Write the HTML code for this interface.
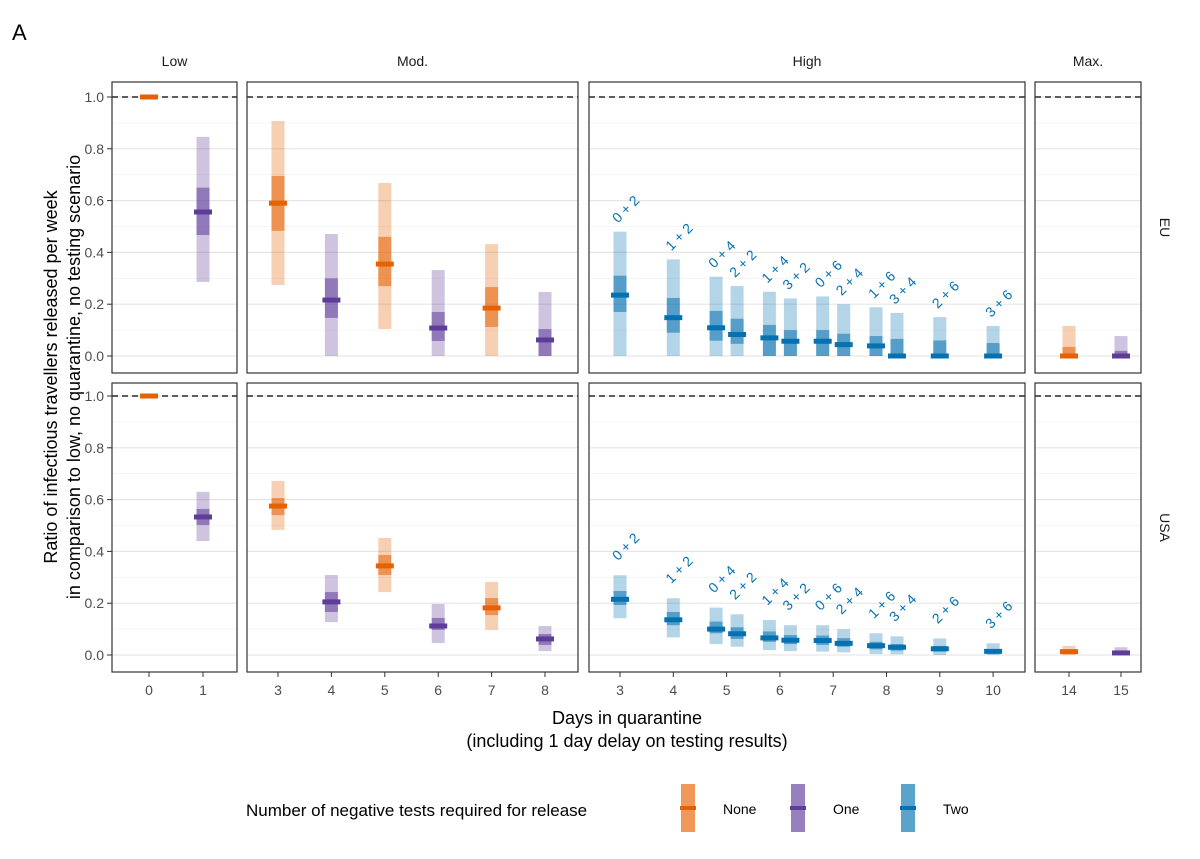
<!DOCTYPE html>
<html><head><meta charset="utf-8">
<style>
body{margin:0;background:#fff;}
svg text{font-family:"Liberation Sans",Arial,sans-serif;}
</style></head>
<body>
<svg id="chart" width="1200" height="854" viewBox="0 0 1200 854" xmlns="http://www.w3.org/2000/svg">
<text x="12" y="40" font-size="22" fill="#000">A</text>
</svg>
<script>
// ---- data ----
// each point: [facetIndex, xValue, dodge, group(0 none,1 one,2 two), lo95, lo50, median, hi50, hi95, label]
const facetNames = ["Low","Mod.","High","Max."];
const rowNames = ["EU","USA"];
const yTicks = [0,0.2,0.4,0.6,0.8,1.0];
const yTickLabels = ["0.0","0.2","0.4","0.6","0.8","1.0"];
const xTicks = [[0,1],[3,4,5,6,7,8],[3,4,5,6,7,8,9,10],[14,15]];
const euPoints = [
 [0,0,0,0,1,1,1,1,1,""],
 [0,1,0,1,0.286,0.467,0.556,0.65,0.846,""],
 [1,3,0,0,0.274,0.483,0.59,0.695,0.907,""],
 [1,4,0,1,0,0.147,0.216,0.3,0.471,""],
 [1,5,0,0,0.104,0.27,0.355,0.46,0.668,""],
 [1,6,0,1,0,0.058,0.108,0.17,0.332,""],
 [1,7,0,0,0,0.112,0.185,0.266,0.432,""],
 [1,8,0,1,0,0,0.062,0.104,0.247,""],
 [2,3,0,2,0,0.17,0.235,0.31,0.48,"0 + 2"],
 [2,4,0,2,0,0.09,0.148,0.224,0.373,"1 + 2"],
 [2,5,-1,2,0,0.059,0.109,0.174,0.306,"0 + 4"],
 [2,5,1,2,0,0.047,0.083,0.144,0.27,"2 + 2"],
 [2,6,-1,2,0,0,0.07,0.12,0.248,"1 + 4"],
 [2,6,1,2,0,0,0.057,0.1,0.222,"3 + 2"],
 [2,7,-1,2,0,0,0.057,0.1,0.23,"0 + 6"],
 [2,7,1,2,0,0,0.044,0.086,0.2,"2 + 4"],
 [2,8,-1,2,0,0,0.039,0.077,0.188,"1 + 6"],
 [2,8,1,2,0,0,0,0.066,0.166,"3 + 4"],
 [2,9,0,2,0,0,0,0.06,0.15,"2 + 6"],
 [2,10,0,2,0,0,0,0.05,0.116,"3 + 6"],
 [3,14,0,0,0,0,0,0.035,0.116,""],
 [3,15,0,1,0,0,0,0.02,0.077,""]
];
const usaPoints = [
 [0,0,0,0,1,1,1,1,1,""],
 [0,1,0,1,0.44,0.502,0.533,0.564,0.63,""],
 [1,3,0,0,0.483,0.54,0.575,0.606,0.672,""],
 [1,4,0,1,0.127,0.166,0.205,0.243,0.309,""],
 [1,5,0,0,0.243,0.309,0.344,0.386,0.452,""],
 [1,6,0,1,0.046,0.097,0.112,0.143,0.197,""],
 [1,7,0,0,0.097,0.154,0.182,0.22,0.282,""],
 [1,8,0,1,0.015,0.039,0.062,0.081,0.112,""],
 [2,3,0,2,0.142,0.193,0.215,0.247,0.308,"0 + 2"],
 [2,4,0,2,0.068,0.115,0.136,0.166,0.219,"1 + 2"],
 [2,5,-1,2,0.042,0.084,0.1,0.129,0.183,"0 + 4"],
 [2,5,1,2,0.032,0.062,0.082,0.107,0.157,"2 + 2"],
 [2,6,-1,2,0.019,0.051,0.066,0.091,0.135,"1 + 4"],
 [2,6,1,2,0.015,0.042,0.057,0.077,0.115,"3 + 2"],
 [2,7,-1,2,0.013,0.039,0.056,0.075,0.115,"0 + 6"],
 [2,7,1,2,0.01,0.032,0.045,0.065,0.1,"2 + 4"],
 [2,8,-1,2,0.004,0.022,0.036,0.051,0.084,"1 + 6"],
 [2,8,1,2,0.003,0.017,0.03,0.042,0.072,"3 + 4"],
 [2,9,0,2,0,0.013,0.024,0.035,0.064,"2 + 6"],
 [2,10,0,2,0,0.006,0.014,0.023,0.045,"3 + 6"],
 [3,14,0,0,0,0.005,0.013,0.022,0.035,""],
 [3,15,0,1,0,0.003,0.008,0.015,0.03,""]
];
const groupNames = ["None","One","Two"];
const groupColors = ["#e66101","#5e3c99","#0571b0"];

// ---- layout ----
const NS="http://www.w3.org/2000/svg";
const svg=document.getElementById('chart');
const panels=[{x0:112,x1:237,d0:0,v0:149,v1:203},{x0:247,x1:578,d0:3,v0:278,v1:331.4},{x0:589,x1:1025,d0:3,v0:620,v1:673.3},{x0:1035,x1:1141,d0:14,v0:1069,v1:1121}];
const rows=[{y0:82,y1:373,zero:356,one:97},{y0:383,y1:672,zero:655,one:396}];
function xs(f,v){const p=panels[f];return p.v0+(v-p.d0)*(p.v1-p.v0);}
function ys(r,v){const R=rows[r];return R.zero-(R.zero-R.one)*v;}
function mk(tag,attrs,parent,name,txt){const e=document.createElementNS(NS,tag);for(const k in attrs)e.setAttribute(k,attrs[k]);
 
 
 if(txt!==undefined)e.textContent=txt;(parent||svg).appendChild(e);return e;}

// strips
facetNames.forEach((n,i)=>{const p=panels[i];mk('text',{x:(p.x0+p.x1)/2,y:66,'font-size':14,fill:'#1a1a1a','text-anchor':'middle'},svg,'facet-strip-'+n.toLowerCase().replace('.',''),n);});
rowNames.forEach((n,r)=>{const R=rows[r];const cy=(R.y0+R.y1)/2;mk('text',{x:1160,y:cy,'font-size':14,fill:'#1a1a1a','text-anchor':'middle',transform:`rotate(90 1160 ${cy})`},svg,'row-strip-'+n.toLowerCase(),n);});

const dataSets=[euPoints,usaPoints];
rows.forEach((R,r)=>{
 panels.forEach((p,f)=>{
  const g=mk('g',{},svg,'panel-'+rowNames[r].toLowerCase()+'-'+f);
  for(let v=0.1;v<1.05;v+=0.2) mk('line',{x1:p.x0,x2:p.x1,y1:ys(r,v),y2:ys(r,v),stroke:'#f3f3f3','stroke-width':0.8},g,'minor-gridline');
  yTicks.forEach(v=>mk('line',{x1:p.x0,x2:p.x1,y1:ys(r,v),y2:ys(r,v),stroke:'#e6e6e6','stroke-width':1.2},g,'major-gridline'));
  mk('line',{x1:p.x0,x2:p.x1,y1:ys(r,1),y2:ys(r,1),stroke:'#000','stroke-width':1.3,'stroke-dasharray':'6 4'},g,'reference-line');
  dataSets[r].filter(d=>d[0]===f).forEach(d=>{
   const x=xs(f,d[1])+d[2]*10.5, c=groupColors[d[3]];
   mk('rect',{x:x-6.5,y:ys(r,d[8]),width:13,height:Math.max(0,ys(r,d[4])-ys(r,d[8])),fill:c,'fill-opacity':0.3},g,'interval-95');
   mk('rect',{x:x-6.5,y:ys(r,d[7]),width:13,height:Math.max(0,ys(r,d[5])-ys(r,d[7])),fill:c,'fill-opacity':0.55},g,'interval-50');
   mk('rect',{x:x-9,y:ys(r,d[6])-2.5,width:18,height:5,fill:c},g,'median-mark');
   if(d[9]){const tx=x-2,ty=ys(r,d[8])-(r===0?8:14);
    mk('text',{x:tx,y:ty,'font-size':14,fill:c,transform:`rotate(-45 ${tx} ${ty})`},g,'scenario-label',d[9]);}
  });
  mk('rect',{x:p.x0,y:R.y0,width:p.x1-p.x0,height:R.y1-R.y0,fill:'none',stroke:'#333','stroke-width':1.2},g,'panel-border');
 });
 yTicks.forEach((v,i)=>{mk('line',{x1:107,x2:112,y1:ys(r,v),y2:ys(r,v),stroke:'#333'},svg,'y-tick');
  mk('text',{x:104,y:ys(r,v)+5,'font-size':14,fill:'#4d4d4d','text-anchor':'end'},svg,'y-tick-label',yTickLabels[i]);});
});
xTicks.forEach((arr,f)=>arr.forEach(v=>{const x=xs(f,v);
 mk('line',{x1:x,x2:x,y1:672,y2:677,stroke:'#333'},svg,'x-tick');
 mk('text',{x:x,y:695,'font-size':14,fill:'#4d4d4d','text-anchor':'middle'},svg,'x-tick-label',String(v));}));
mk('text',{x:627,y:724,'font-size':18,fill:'#000','text-anchor':'middle'},svg,'x-axis-title','Days in quarantine');
mk('text',{x:627,y:747,'font-size':18,fill:'#000','text-anchor':'middle'},svg,'x-axis-subtitle','(including 1 day delay on testing results)');
mk('text',{x:57,y:377,'font-size':18,fill:'#000','text-anchor':'middle',transform:'rotate(-90 57 377)'},svg,'y-axis-title','Ratio of infectious travellers released per week');
mk('text',{x:80,y:377,'font-size':18,fill:'#000','text-anchor':'middle',transform:'rotate(-90 80 377)'},svg,'y-axis-title-line2','in comparison to low, no quarantine, no testing scenario');
mk('text',{x:246,y:816,'font-size':17,fill:'#000'},svg,'legend-title','Number of negative tests required for release');
const lx=[688,798,908];
groupNames.forEach((n,i)=>{const g=mk('g',{},svg,'legend-entry-'+n.toLowerCase());
 mk('rect',{x:lx[i]-7,y:784,width:14,height:48,fill:groupColors[i],'fill-opacity':0.65},g,'legend-key');
 mk('rect',{x:lx[i]-8,y:806,width:16,height:4,fill:groupColors[i]},g,'legend-key-median');
 mk('text',{x:lx[i]+35,y:814,'font-size':14,fill:'#000'},g,'legend-label',n);});
</script>
</body></html>
